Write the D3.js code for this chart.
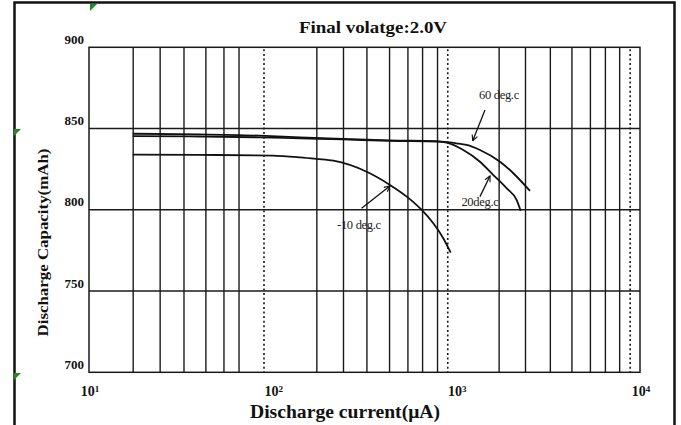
<!DOCTYPE html>
<html>
<head>
<meta charset="utf-8">
<script src="https://cdn.jsdelivr.net/npm/d3@7"></script>
<style>
    html, body { margin: 0; padding: 0; background: #fff; }
    svg { display: block; }
</style>
</head>
<body>
<div id="chart"></div>
<script>
(function () {
    'use strict';

    // ---- data ----
    var xTicks = [10, 100, 1000, 10000],
        xTickPowers = ['1', '2', '3', '4'],
        yTicks = [700, 750, 800, 850, 900],

        // the drawn grid is not a true log grid, multipliers as drawn per decade
        minorGrid = [
            [1.74, 2.44, 3.29, 4.33, 5.43, 6.56],
            [1.74, 2.43, 3.26, 4.33, 5.45, 6.55, 7.9],
            [1.71, 2.38, 3.25, 4.26, 5.37, 6.48, 7.75]
        ],
        dottedGrid = [89.7, 898, 8840],

        current60 = [17.3, 40, 85, 141, 241, 435, 780, 886, 1000, 1138, 1345, 1729, 2043, 2518],
        capacity60 = [846.8, 846.4, 845.6, 844.6, 843.6, 842.7, 842.2, 841.6, 840.9, 839.9, 836.8, 829.6, 822.5, 811.6],

        current20 = [17.3, 40, 85, 141, 241, 435, 780, 886, 1091, 1345, 1590, 1881, 2131, 2241],
        capacity20 = [845.4, 845.1, 844.6, 844.0, 843.3, 842.4, 842.0, 841.3, 836.8, 829.6, 821.4, 813.2, 806.0, 799.4],

        currentM10 = [17.3, 40, 100, 141, 174, 214, 325, 435, 537, 648, 749, 849, 932],
        capacityM10 = [834.0, 833.8, 833.4, 832.3, 831.3, 830.2, 823.4, 815.3, 808.1, 799.9, 791.7, 782.5, 773.6],

        labels = ['60 deg.c', '20deg.c', '-10 deg.c'],
        labelAt = [[1707, 870.6], [1345, 804.6], [295, 790.4]],
        arrowFrom = [[1432, 861.4], [1345, 808.1], [305, 800.9]],
        arrowTo = [[1228, 842.5], [1525, 820.8], [435, 814.6]],

        width = 681,
        height = 425,
        left = 89,
        right = 640,
        top = 47.3,
        bottom = 372.3,
        serif = '"Liberation Serif", "Times New Roman", serif',

        svg = d3.select('#chart')
            .append('svg')
            .attr('width', width)
            .attr('height', height),

        x = d3.scaleLog().domain([10, 10000]).range([left, right]),
        y = d3.scaleLinear().domain([700, 900]).range([bottom, top]),

        line = d3.line()
            .x(function (d) { return x(d[0]); })
            .y(function (d) { return y(d[1]); })
            .curve(d3.curveMonotoneX),

        minorValues = [],
        series,
        xLabels;

    minorGrid.forEach(function (row, i) {
        row.forEach(function (m) {
            minorValues.push(m * Math.pow(10, i + 1));
        });
    });

    series = [
        d3.zip(current60, capacity60),
        d3.zip(current20, capacity20),
        d3.zip(currentM10, capacityM10)
    ];

    // page frame
    svg.append('path')
        .attr('d', 'M14.5,' + height + 'V2.5H674.5V' + height)
        .style('fill', 'none')
        .style('stroke', '#111')
        .style('stroke-width', '2.5px');

    // little green marks of the source document
    [[90, 4], [14, 129], [14, 373]].forEach(function (p) {
        svg.append('path')
            .attr('d', 'M' + p[0] + ',' + p[1] + 'h7l-7,7z')
            .style('fill', '#1f8a1f');
    });

    // title
    svg.append('text')
        .attr('x', 373)
        .attr('y', 33)
        .attr('text-anchor', 'middle')
        .attr('textLength', 148)
        .attr('lengthAdjust', 'spacingAndGlyphs')
        .style('font-family', serif)
        .style('font-weight', 'bold')
        .style('font-size', '17.5px')
        .style('fill', '#111')
        .text('Final volatge:2.0V');

    // vertical grid
    svg.append('g')
        .selectAll('line')
        .data(minorValues)
        .enter()
        .append('line')
        .attr('x1', function (d) { return x(d); })
        .attr('x2', function (d) { return x(d); })
        .attr('y1', top)
        .attr('y2', bottom)
        .style('stroke', '#1a1a1a')
        .style('stroke-width', '1.4px');

    svg.append('g')
        .selectAll('line')
        .data(dottedGrid)
        .enter()
        .append('line')
        .attr('x1', function (d) { return x(d); })
        .attr('x2', function (d) { return x(d); })
        .attr('y1', top + 2)
        .attr('y2', bottom)
        .style('stroke', '#1a1a1a')
        .style('stroke-width', '1.6px')
        .style('stroke-dasharray', '2,2.6');

    // horizontal grid
    svg.append('g')
        .selectAll('line')
        .data(yTicks.slice(1, -1))
        .enter()
        .append('line')
        .attr('x1', left)
        .attr('x2', right)
        .attr('y1', function (d) { return y(d); })
        .attr('y2', function (d) { return y(d); })
        .style('stroke', '#1a1a1a')
        .style('stroke-width', '1.4px');

    svg.append('rect')
        .attr('x', left)
        .attr('y', top)
        .attr('width', right - left)
        .attr('height', bottom - top)
        .style('fill', 'none')
        .style('stroke', '#1a1a1a')
        .style('stroke-width', '1.5px');

    // y tick labels
    svg.append('g')
        .selectAll('text')
        .data(yTicks)
        .enter()
        .append('text')
        .attr('x', 84)
        .attr('y', function (d) { return y(d) - 3.5; })
        .attr('text-anchor', 'end')
        .style('font-family', serif)
        .style('font-weight', 'bold')
        .style('font-size', '13px')
        .style('fill', '#111')
        .text(function (d) { return d; });

    // x tick labels, 10 with a raised power
    xLabels = svg.append('g')
        .selectAll('text')
        .data(xTicks)
        .enter()
        .append('text')
        .attr('x', function (d) { return x(d) + 1; })
        .attr('y', 396)
        .attr('text-anchor', 'middle')
        .style('font-family', serif)
        .style('font-weight', 'bold')
        .style('font-size', '14px')
        .style('fill', '#111');
    xLabels.append('tspan')
        .text('10');
    xLabels.append('tspan')
        .attr('dy', -4.5)
        .style('font-size', '9px')
        .text(function (d, i) { return xTickPowers[i]; });

    // axis titles
    svg.append('text')
        .attr('x', 345)
        .attr('y', 418)
        .attr('text-anchor', 'middle')
        .attr('textLength', 190)
        .attr('lengthAdjust', 'spacingAndGlyphs')
        .style('font-family', serif)
        .style('font-weight', 'bold')
        .style('font-size', '18px')
        .style('fill', '#111')
        .text('Discharge current(\u03bcA)');

    svg.append('text')
        .attr('transform', 'translate(48,242.5) rotate(-90)')
        .attr('text-anchor', 'middle')
        .attr('textLength', 188)
        .attr('lengthAdjust', 'spacingAndGlyphs')
        .style('font-family', serif)
        .style('font-weight', 'bold')
        .style('font-size', '15.5px')
        .style('fill', '#111')
        .text('Discharge Capacity(mAh)');

    // curves
    svg.append('g')
        .selectAll('path')
        .data(series)
        .enter()
        .append('path')
        .attr('d', line)
        .style('fill', 'none')
        .style('stroke', '#111')
        .style('stroke-width', '1.8px');

    // arrows
    svg.append('defs')
        .append('marker')
        .attr('id', 'head')
        .attr('viewBox', '0 0 10 10')
        .attr('refX', 9)
        .attr('refY', 5)
        .attr('markerWidth', 7)
        .attr('markerHeight', 7)
        .attr('markerUnits', 'userSpaceOnUse')
        .attr('orient', 'auto')
        .append('path')
        .attr('d', 'M1,1L9,5L1,9')
        .style('fill', 'none')
        .style('stroke', '#111')
        .style('stroke-width', '1.6px');

    svg.append('g')
        .selectAll('line')
        .data(arrowFrom)
        .enter()
        .append('line')
        .attr('x1', function (d) { return x(d[0]); })
        .attr('y1', function (d) { return y(d[1]); })
        .attr('x2', function (d, i) { return x(arrowTo[i][0]); })
        .attr('y2', function (d, i) { return y(arrowTo[i][1]); })
        .attr('marker-end', 'url(#head)')
        .style('stroke', '#111')
        .style('stroke-width', '1.3px');

    svg.append('g')
        .selectAll('text')
        .data(labels)
        .enter()
        .append('text')
        .attr('x', function (d, i) { return x(labelAt[i][0]); })
        .attr('y', function (d, i) { return y(labelAt[i][1]) + 4; })
        .attr('text-anchor', 'middle')
        .style('font-family', serif)
        .style('font-size', '12.5px')
        .style('letter-spacing', '-0.3px')
        .style('fill', '#222')
        .text(function (d) { return d; });

}());
</script>
</body>
</html>
